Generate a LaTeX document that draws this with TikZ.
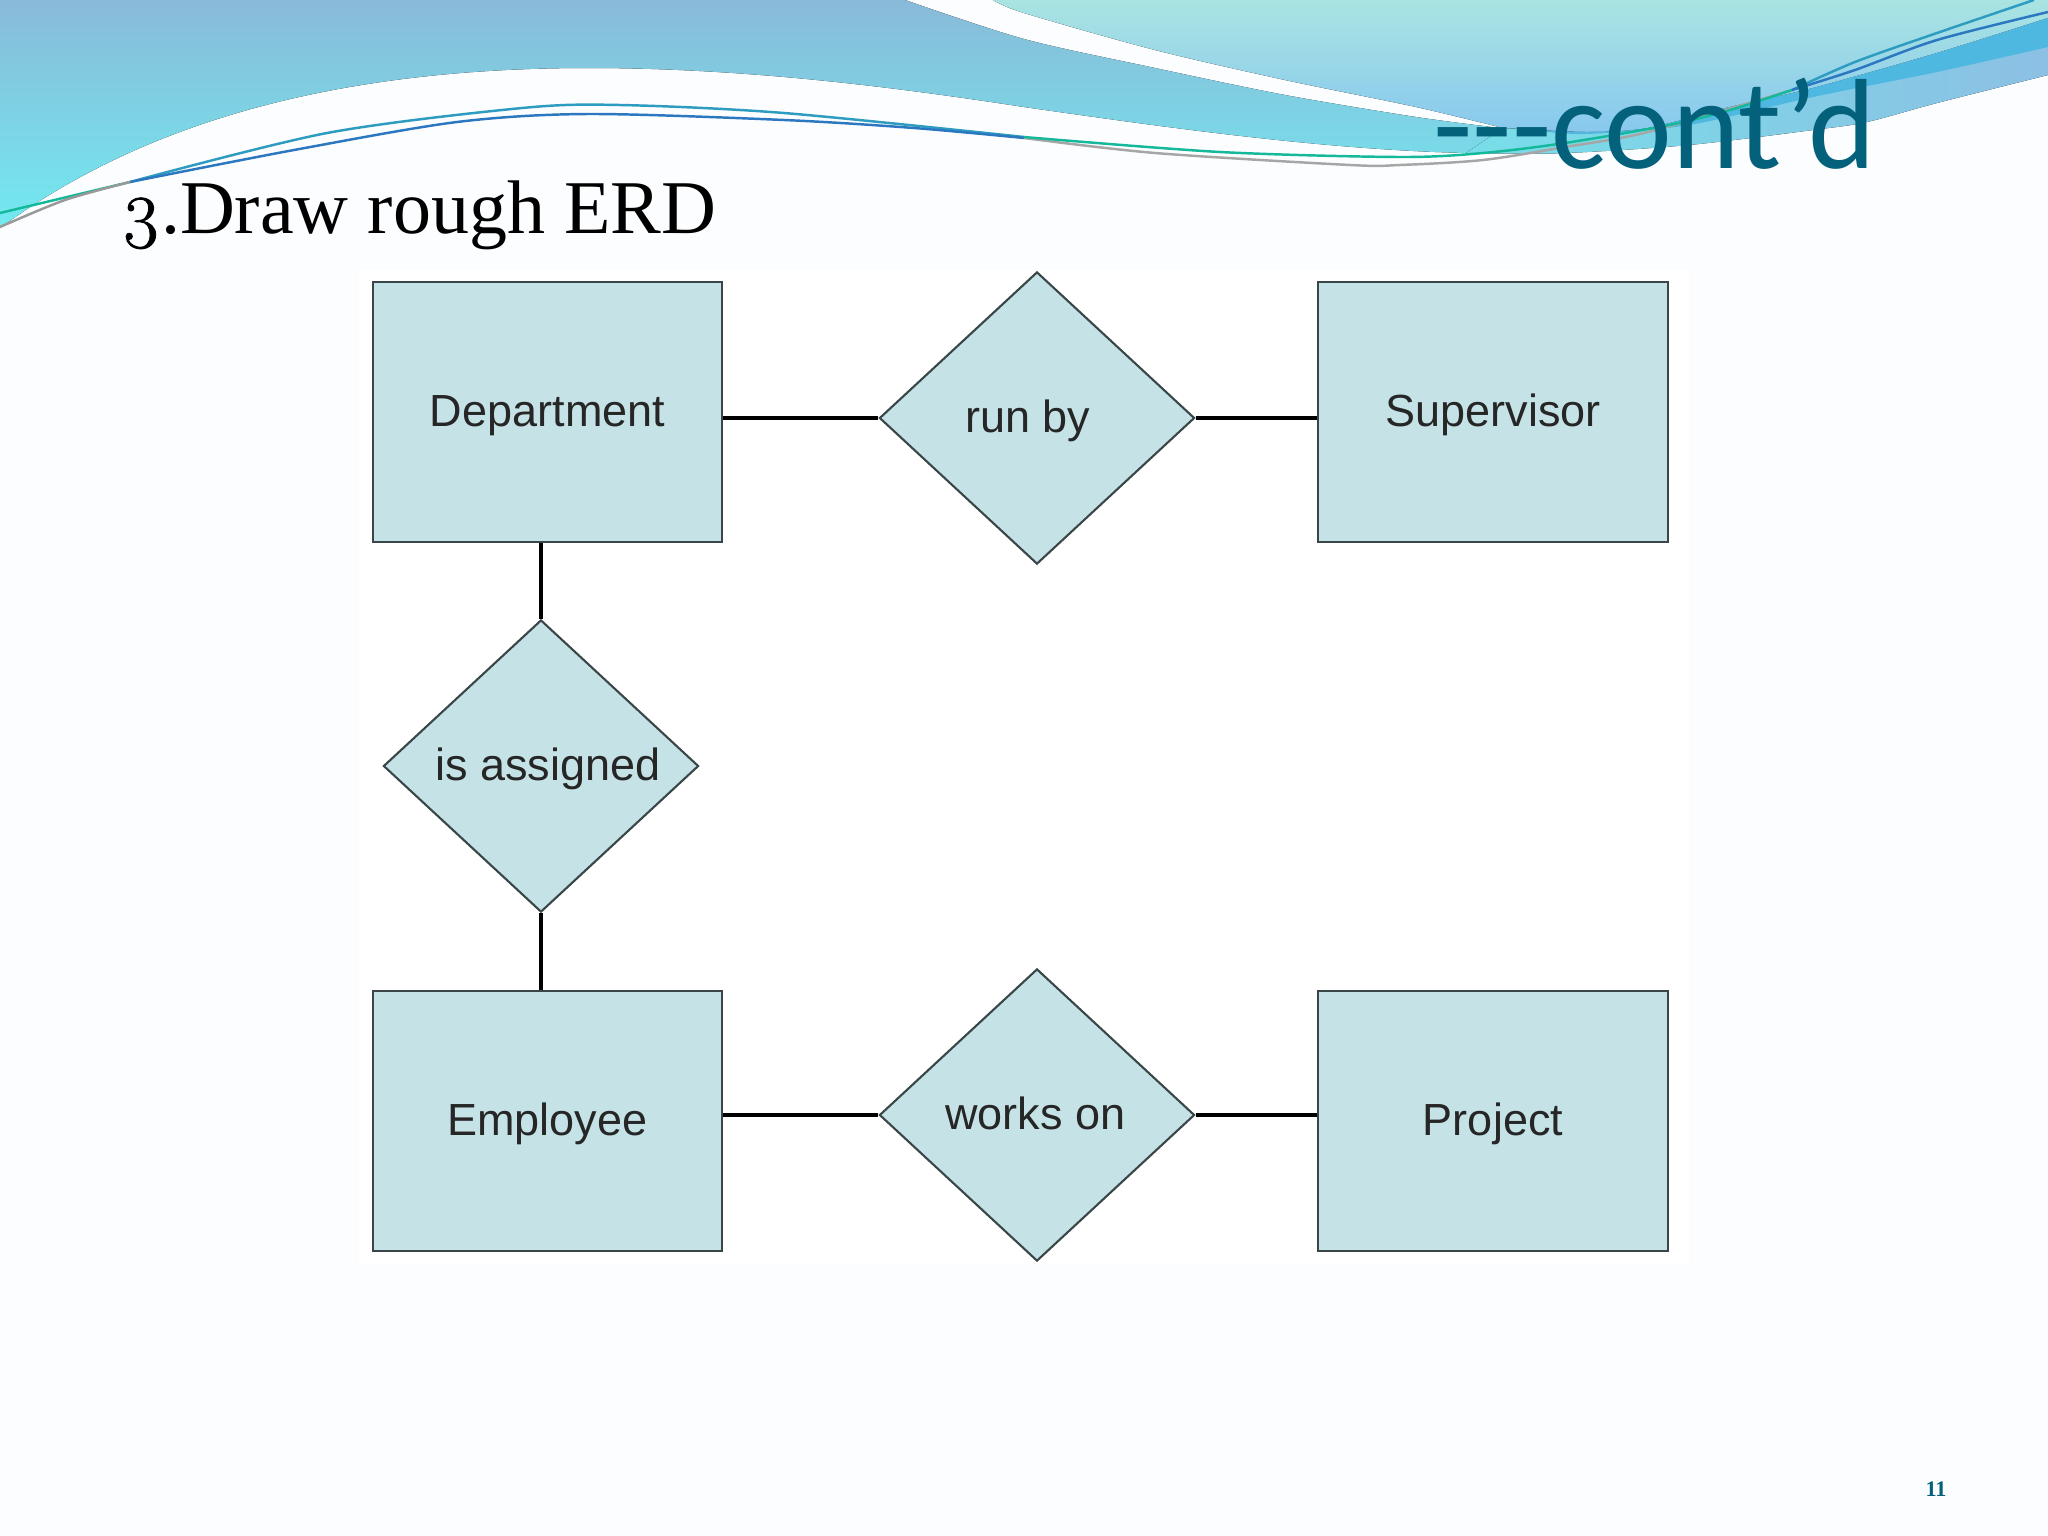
\documentclass[tikz,border=0pt]{standalone}
\usepackage{fontspec}
\usetikzlibrary{shapes.geometric}
\newfontfamily\erdfont{Liberation Sans}
\newfontfamily\headfont{Carlito}
\newfontfamily\bodyfont{Liberation Serif}
\newfontfamily\oldnums[Numbers=OldStyle,FakeBold=1]{Latin Modern Roman}
\definecolor{pagebg}{HTML}{FCFDFE}
\definecolor{erdfill}{HTML}{C5E3E7}
\definecolor{erdline}{HTML}{3A4648}
\definecolor{headcol}{HTML}{04617B}
\definecolor{bandtop}{HTML}{89BAD8}
\definecolor{bandlow}{HTML}{72EAF0}
\definecolor{lighttop}{HTML}{A9E4E2}
\definecolor{lightlow}{HTML}{88C8EE}
\definecolor{tailleft}{HTML}{78DEE8}
\definecolor{tailright}{HTML}{8CC0E4}
\definecolor{tailmid}{HTML}{4EB8E0}
\definecolor{swishgreen}{HTML}{14B89A}
\definecolor{swishteal}{HTML}{2E9CC0}
\definecolor{swishblue}{HTML}{2C78C0}
\tikzset{
	entity/.style={draw=erdline,fill=erdfill,line width=.6pt,minimum width=3.49cm,minimum height=2.59cm,inner sep=0,font=\erdfont\fontsize{12.8}{15}\selectfont,text=black!85,text height=8pt,text depth=0pt},
	relation/.style={diamond,draw=erdline,fill=erdfill,line width=.6pt,minimum width=3.15cm,minimum height=2.92cm,inner sep=0},
	rellabel/.style={inner sep=0,font=\erdfont\fontsize{12.8}{15}\selectfont,text=black!85,text height=8pt,text depth=0pt},
	link/.style={line width=1.4pt,black},
	swish/.style={line width=.7pt}
}
\begin{document}
\begin{tikzpicture}[x=.01cm,y=-.01cm]
	\useasboundingbox (0,0) rectangle (2048,1536);
	\fill[pagebg] (0,0) rectangle (2048,1536);

	\fill[top color=bandtop,bottom color=bandlow]
		(0,0) -- (905,0) -- plot[smooth] coordinates {(905,0) (1024,39) (1155,68) (1285,95) (1416,117) (1500,128)}
		-- (1560,153) -- (1468,153) .. controls (1320,150) and (1150,125) .. (1024,107)
		.. controls (900,88) and (750,68) .. (588,68) .. controls (330,68) and (140,125) .. (0,228) -- cycle;
	\fill[top color=lighttop,bottom color=lightlow]
		(993,0) -- (2048,0) -- (2048,18) -- plot[smooth] coordinates {(2048,18) (1937,53) (1813,88) (1730,107) (1648,128) (1586,132) (1503,128)}
		-- plot[smooth] coordinates {(1503,128) (1416,107) (1285,80) (1155,50) (1024,13) (993,0)} -- cycle;
	\fill[left color=tailleft,right color=tailright]
		(1503,128) -- plot[smooth] coordinates {(1503,128) (1586,132) (1648,128) (1730,107) (1813,88) (1937,53) (2048,18)}
		-- (2048,75) -- plot[smooth] coordinates {(2048,75) (1937,103) (1867,122) (1813,130) (1689,145) (1565,153) (1466,153)} -- cycle;
	\fill[tailmid]
		(1530,130) -- plot[smooth] coordinates {(1530,130) (1586,132) (1648,128) (1730,107) (1813,88) (1937,53) (2048,18)}
		-- (2048,47) -- plot[smooth] coordinates {(2048,47) (1937,72) (1813,97) (1689,125) (1586,134) (1530,130)} -- cycle;

	\draw[swish,swishgreen] plot[smooth] coordinates {(0,213) (130,182)};
	\draw[swish,swishteal] plot[smooth] coordinates {(130,182) (327,133) (522,108) (620,105) (784,113) (1024,137)};
	\draw[swish,swishblue] plot[smooth] coordinates {(130,182) (294,150) (457,122) (588,114) (784,120) (914,128) (1024,138)};
	\draw[swish,gray!80] plot[smooth] coordinates {(0,227) (65,200) (130,182)};
	\draw[swish,gray!70] plot[smooth] coordinates {(1024,138) (1155,153) (1350,165) (1400,165) (1483,160) (1565,147) (1648,132) (1792,90)};
	\draw[swish,swishgreen] plot[smooth] coordinates {(1024,137) (1220,152) (1400,157) (1483,153) (1565,143) (1669,125) (1730,110) (1792,90)};
	\draw[swish,swishteal] plot[smooth] coordinates {(1792,90) (1855,62) (1937,33) (2034,0)};
	\draw[swish,swishblue] plot[smooth] coordinates {(1792,90) (1855,70) (1937,40) (2048,12)};

	\node[inner sep=0,anchor=base west,font=\bodyfont\fontsize{21.6}{26}\selectfont,black] (title) at (120,233) {{\oldnums 3}.Draw rough ERD};
	\node[inner sep=0,anchor=base east,font=\headfont\fontsize{36.5}{40}\selectfont,headcol] (cont) at (1877,168) {---cont’d};

	\fill[white] (359,270) rectangle (1689,1264);

	\node[entity] (dept) at (547.5,412) {Department};
	\node[entity] (super) at (1493,412) {Supervisor};
	\node[entity] (emp) at (547.5,1121) {Employee};
	\node[entity] (proj) at (1493,1121) {Project};

	\node[relation] (runby) at (1037,418) {};
	\node[relation] (assigned) at (541,766) {};
	\node[relation] (works) at (1037,1115) {};

	\node[rellabel] (runbytxt) at (1028,418) {run by};
	\node[rellabel] (assignedtxt) at (548,766) {is assigned};
	\node[rellabel] (workstxt) at (1035.5,1115) {works on};

	\draw[link] (runby.west -| dept.east) -- (runby.west);
	\draw[link] (runby.east) -- (runby.east -| super.west);
	\draw[link] (works.west -| emp.east) -- (works.west);
	\draw[link] (works.east) -- (works.east -| proj.west);
	\draw[link] (assigned.north |- dept.south) -- (assigned.north);
	\draw[link] (assigned.south) -- (assigned.south |- emp.north);

	\node[inner sep=0,font=\bodyfont\bfseries\fontsize{6.3}{8}\selectfont,headcol] (pageno) at (1936,1489) {11};
\end{tikzpicture}
\end{document}
